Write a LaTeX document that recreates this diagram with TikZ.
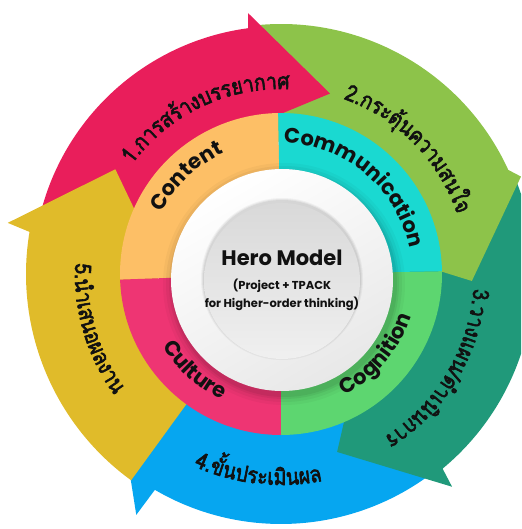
\documentclass[tikz,border=0pt]{standalone}
\usepackage{fontspec}
\newfontfamily\thaif[Script=Thai,FakeBold=2.6,FakeStretch=0.86]{Loma}
\newfontfamily\labf{Poppins}
\definecolor{cRed}{HTML}{E91E5B}
\definecolor{cLime}{HTML}{8DC34A}
\definecolor{cTeal}{HTML}{20997A}
\definecolor{cBlue}{HTML}{06A6F0}
\definecolor{cYel}{HTML}{E0BB2A}
\definecolor{cOra}{HTML}{FDBF66}
\definecolor{cCya}{HTML}{1AD9D1}
\definecolor{cGrn}{HTML}{5DD670}
\definecolor{cPnk}{HTML}{EE3573}
\definecolor{cTxt}{HTML}{111111}
\newsavebox\arcbox
\makeatletter
\newcommand\arcsetwidth[1]{\pgfinterruptpicture\sbox\arcbox{#1}\xdef\arcwd{\strip@pt\wd\arcbox}\endpgfinterruptpicture}
\makeatother
% #1 font, #2 baseline radius, #3 centre angle, #4 direction (+1 ccw, tops inward; -1 cw, tops outward), #5 clusters
\newcommand\arctext[5]{%
  \xdef\arctotw{0}%
  \foreach \cl in {#5}{\arcsetwidth{#1\cl}\pgfmathsetmacro\arctmp{\arctotw+\arcwd}\xdef\arctotw{\arctmp}}%
  \pgfmathsetmacro\arctmp{#3-(#4)*\arctotw/(#2)*28.64789}%
  \xdef\arccur{\arctmp}%
  \foreach \cl in {#5}{%
    \arcsetwidth{#1\cl}%
    \pgfmathsetmacro\archw{\arcwd/(#2)*28.64789}%
    \pgfmathsetmacro\arcmid{\arccur+(#4)*\archw}%
    \node[inner sep=0pt,outer sep=0pt,anchor=base,text=cTxt,rotate=\arcmid+(#4)*90] at (\arcmid:#2) {#1\cl};%
    \pgfmathsetmacro\arctmp{\arccur+2*(#4)*\archw}%
    \xdef\arccur{\arctmp}%
  }%
}
% #1 colour, #2 start angle, #3 outer radius, #4 end of outer arc, #5 barb angle, #6 barb radius, #7 tip, #8 inner point, #9 inner radius
\newcommand\arrowseg[9]{%
  \fill[#1] (#2:#9) -- (#2:#3) arc[start angle=#2,end angle=#4,radius=#3] -- (#5:#6) -- (#7) -- (#8) -- cycle;}
\newcommand\thaitext{\thaif\fontsize{22.5}{26}\selectfont}
\newcommand\labtext{\labf\bfseries\fontsize{21}{25}\selectfont}
\begin{document}
\begin{tikzpicture}[x=1pt,y=1pt]
\useasboundingbox (-281,-255) rectangle (240,274);
\clip (-281,-255) rectangle (240,274);
% outer arrows (order matters)
\arrowseg{cBlue}{-51}{250}{-120.3}{-121}{281}{-148:196}{-130:150}{150}
\arrowseg{cTeal}{21.5}{253}{-50.3}{-51.2}{273}{-72.5:186.6}{-62.6:146}{146}
\arrowseg{cLime}{96.5}{250}{24.6}{22.1}{259}{-2.1:191}{2.9:145}{145}
\arrowseg{cRed}{168}{248}{97.6}{97.2}{263}{74.8:187}{101:151}{151}
\arrowseg{cYel}{234}{255}{170.5}{169.4}{278}{147.7:196}{160:149}{149}
% inner ring
\fill[cOra] (0,0) -- (91:161) arc[start angle=91,end angle=182,radius=161] -- cycle;
\fill[cPnk] (0,0) -- (182:161) arc[start angle=182,end angle=270,radius=161] -- cycle;
\fill[cGrn] (0,0) -- (270:161) arc[start angle=270,end angle=361,radius=161] -- cycle;
\fill[cCya] (0,0) -- (1:161) arc[start angle=1,end angle=91,radius=161] -- cycle;
% centre disk with soft shadow
\foreach \r/\o in {121/0.03,118/0.04,115/0.05,113/0.06} \fill[black,opacity=\o] (3,-10) circle (\r);
\shade[top color=white,bottom color=black!9,shading angle=30] (1,-6) circle (111);
\foreach \r/\o in {81/0.04,80/0.05,79/0.06} \fill[black,opacity=\o] (1,-5) circle (\r);
\shade[top color=black!15,bottom color=black!6] (1,-7) circle (78);
% centre text
\node[text=cTxt,font=\labf\bfseries\fontsize{21}{25}\selectfont] (title) at (1,16) {Hero Model};
\node[text=cTxt,font=\labf\bfseries\fontsize{11.5}{14}\selectfont] (sub1) at (1,-12) {(Project + TPACK};
\node[text=cTxt,font=\labf\bfseries\fontsize{11.5}{14}\selectfont] (sub2) at (1,-30) {for Higher-order thinking)};
% inner ring labels
\arctext{\labtext}{134}{134}{-1}{C,o,n,t,e,n,t}
\arctext{\labtext}{131}{50}{-1}{C,o,m,m,u,n,i,c,a,t,i,o,n}
\arctext{\labtext}{137}{-40}{1}{C,o,g,n,i,t,i,o,n}
\arctext{\labtext}{139}{228}{1}{C,u,l,t,u,r,e}
% step labels
\arctext{\thaitext}{185}{115.5}{-1}{1,.,ก,า,ร,ส,ร้,า,ง,บ,ร,ร,ย,า,ก,า,ศ}
\arctext{\thaitext}{186}{44.5}{-1}{2,.,ก,ร,ะ,ตุ้,น,ค,ว,า,ม,ส,น,ใ,จ}
\arctext{\thaitext}{193}{-31}{-1}{3,.,ว,า,ง,แ,ผ,น,/,ดำ,เ,นิ,น,ก,า,ร}
\arctext{\thaitext}{211}{263.5}{1}{4,.,ขั้,น,ป,ร,ะ,เ,มิ,น,ผ,ล}
\arctext{\thaitext}{206}{196.5}{1}{5,.,นำ,เ,ส,น,อ,ผ,ล,ง,า,น}
\end{tikzpicture}
\end{document}
